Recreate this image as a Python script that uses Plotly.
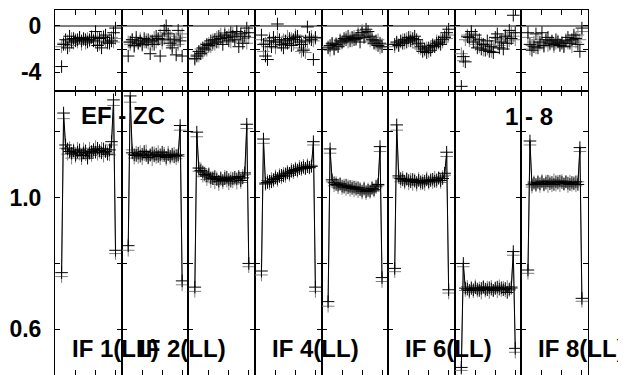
import plotly.graph_objects as go
from plotly.subplots import make_subplots

# channels plotted in every IF panel
CHANNELS = list(range(3, 31))
N_IF = 8

# labels drawn along the bottom (AIPS skips the ones that would collide)
IF_LABELS = {1: "IF 1(LL)", 2: "IF 2(LL)", 4: "IF 4(LL)", 6: "IF 6(LL)", 8: "IF 8(LL)"}

PHASE_TICKS = [-4, -2, 0]
PHASE_TEXT  = ["-4", "", "0"]
AMP_TICKS   = [0.6, 0.8, 1.0, 1.2]
AMP_TEXT    = ["0.6", "", "1.0", ""]

# amplitude, main baseline (black)
AMP_BLACK = [
    [0.772, 1.257, 1.160, 1.148, 1.140, 1.135, 1.142, 1.130, 1.138, 1.145, 1.128, 1.136, 1.142, 1.120,
     1.135, 1.140, 1.146, 1.138, 1.150, 1.143, 1.136, 1.148, 1.140, 1.132, 1.145, 1.170, 1.297, 0.840],
    [0.854, 1.309, 1.136, 1.130, 1.128, 1.135, 1.126, 1.132, 1.140, 1.128, 1.122, 1.130, 1.136, 1.127,
     1.132, 1.125, 1.130, 1.138, 1.128, 1.122, 1.130, 1.126, 1.132, 1.124, 1.128, 1.130, 1.219, 0.747],
    [0.728, 1.199, 1.090, 1.082, 1.078, 1.070, 1.066, 1.072, 1.060, 1.058, 1.064, 1.055, 1.050, 1.060,
     1.052, 1.058, 1.062, 1.055, 1.050, 1.058, 1.062, 1.057, 1.064, 1.052, 1.060, 1.075, 1.223, 0.800],
    [0.777, 1.178, 1.044, 1.046, 1.050, 1.048, 1.055, 1.060, 1.058, 1.064, 1.068, 1.066, 1.072, 1.075,
     1.074, 1.080, 1.082, 1.085, 1.084, 1.088, 1.090, 1.092, 1.089, 1.094, 1.092, 1.095, 1.170, 0.728],
    [0.684, 1.148, 1.054, 1.045, 1.040, 1.038, 1.042, 1.035, 1.032, 1.038, 1.030, 1.034, 1.028, 1.032,
     1.026, 1.030, 1.024, 1.020, 1.026, 1.018, 1.022, 1.020, 1.028, 1.024, 1.035, 1.040, 1.155, 0.757],
    [0.785, 1.221, 1.066, 1.058, 1.054, 1.050, 1.056, 1.052, 1.048, 1.055, 1.050, 1.046, 1.052, 1.048,
     1.044, 1.050, 1.054, 1.048, 1.052, 1.056, 1.050, 1.054, 1.060, 1.052, 1.058, 1.074, 1.138, 0.720],
    [0.484, 0.800, 0.725, 0.722, 0.718, 0.724, 0.720, 0.726, 0.722, 0.718, 0.724, 0.728, 0.722, 0.720,
     0.726, 0.722, 0.718, 0.724, 0.728, 0.722, 0.726, 0.720, 0.724, 0.712, 0.722, 0.728, 0.836, 0.542],
    [0.780, 1.172, 1.039, 1.044, 1.040, 1.046, 1.042, 1.048, 1.040, 1.044, 1.050, 1.042, 1.046, 1.040,
     1.048, 1.044, 1.050, 1.046, 1.042, 1.048, 1.044, 1.040, 1.046, 1.042, 1.048, 1.040, 1.152, 0.694],
]

# amplitude, second set (grey)
AMP_GREY = [
    [0.760, 1.240, 1.150, 1.132, 1.152, 1.120, 1.145, 1.125, 1.150, 1.132, 1.118, 1.148, 1.130, 1.125,
     1.150, 1.128, 1.140, 1.155, 1.132, 1.138, 1.150, 1.126, 1.145, 1.138, 1.130, 1.160, 1.280, 0.830],
    [0.840, 1.290, 1.145, 1.120, 1.138, 1.122, 1.140, 1.118, 1.130, 1.142, 1.120, 1.128, 1.115, 1.136,
     1.122, 1.140, 1.118, 1.128, 1.135, 1.116, 1.138, 1.120, 1.126, 1.135, 1.118, 1.125, 1.205, 0.735],
    [0.715, 1.185, 1.080, 1.088, 1.065, 1.075, 1.055, 1.068, 1.048, 1.062, 1.045, 1.060, 1.040, 1.055,
     1.045, 1.065, 1.050, 1.042, 1.060, 1.048, 1.056, 1.044, 1.058, 1.046, 1.068, 1.070, 1.210, 0.790],
    [0.765, 1.165, 1.040, 1.052, 1.042, 1.058, 1.050, 1.066, 1.052, 1.070, 1.060, 1.074, 1.064, 1.080,
     1.068, 1.086, 1.076, 1.090, 1.080, 1.095, 1.085, 1.098, 1.088, 1.100, 1.090, 1.098, 1.160, 0.715],
    [0.670, 1.135, 1.048, 1.036, 1.046, 1.030, 1.040, 1.028, 1.038, 1.025, 1.036, 1.022, 1.034, 1.020,
     1.032, 1.018, 1.028, 1.014, 1.030, 1.012, 1.026, 1.016, 1.032, 1.020, 1.030, 1.036, 1.140, 0.745],
    [0.775, 1.205, 1.060, 1.048, 1.062, 1.044, 1.058, 1.042, 1.056, 1.040, 1.054, 1.038, 1.058, 1.042,
     1.052, 1.040, 1.060, 1.044, 1.056, 1.046, 1.062, 1.048, 1.058, 1.046, 1.064, 1.068, 1.125, 0.710],
    [0.475, 0.790, 0.718, 0.730, 0.712, 0.728, 0.714, 0.732, 0.716, 0.726, 0.710, 0.730, 0.716, 0.728,
     0.712, 0.730, 0.718, 0.726, 0.714, 0.732, 0.718, 0.728, 0.716, 0.730, 0.718, 0.724, 0.825, 0.530],
    [0.770, 1.160, 1.032, 1.048, 1.036, 1.050, 1.034, 1.052, 1.038, 1.050, 1.034, 1.048, 1.036, 1.054,
     1.038, 1.050, 1.036, 1.052, 1.040, 1.048, 1.034, 1.050, 1.038, 1.046, 1.036, 1.048, 1.140, 0.685],
]

# phase, main baseline (black)
PHASE_BLACK = [
    [-3.5, -1.6, -1.2, -1.9, -0.9, -1.4, -1.1, -1.3, -1.2, -1.0, -1.3, -1.1, -1.2, -1.4,
     -1.2, -1.0, -1.3, -0.5, -1.7, -1.1, -1.9, -1.0, -0.8, -1.4, -1.5, -1.3, -0.6, -0.2],
    [-2.6, -1.4, -1.2, -1.7, -1.0, -1.5, -1.3, -1.6, -1.1, -1.4, -1.2, -2.4, -1.3, -1.6,
     -0.9, -1.1, -2.6, -1.2, -0.4, 0.0, -0.7, -1.5, -1.9, -1.2, -2.5, -0.4, -1.3, -2.6],
    [-2.8, -2.6, -2.2, -2.4, -1.9, -2.0, -1.6, -1.7, -1.3, -1.5, -1.2, -1.4, -0.9, -1.1,
     -1.6, -0.8, -1.0, -1.3, -0.6, -0.9, -1.2, -0.5, -1.8, -0.7, -1.5, -0.9, -0.2, -0.6],
    [-0.8, -1.6, -2.6, -2.9, -1.3, -1.8, -1.0, -1.4, 0.15, -1.2, -1.6, -1.9, -1.3, -1.5,
     -1.1, -1.7, -1.2, -1.0, -0.9, -1.4, -1.6, -2.1, -1.3, -0.1, -1.0, -1.2, -2.9, -1.0],
    [-1.9, -1.7, -1.5, -2.0, -1.6, -1.8, -1.3, -1.4, -1.1, -1.2, -0.9, -1.3, -1.0, -1.2,
     -1.1, -0.8, -1.4, -0.6, -1.0, -0.3, -0.5, -0.9, -1.2, -1.5, -1.3, -1.7, -1.5, -1.8],
    [-1.6, -1.4, -1.7, -1.3, -1.5, -1.2, -1.4, -1.0, -1.3, -1.1, -0.9, -1.2, -1.5, -1.8,
     -2.2, -2.0, -2.3, -1.9, -2.1, -1.7, -1.8, -1.5, -1.4, -1.6, -1.2, -1.0, -0.6, -0.3],
    [-5.2, -2.65, -3.1, -0.95, -1.0, -0.5, -1.4, -0.8, -1.9, -1.2, -2.0, -1.6, -2.1, -1.3,
     -2.2, -1.8, -2.3, -1.0, -0.7, -1.9, -1.4, -2.0, -0.9, -1.5, -0.4, -1.1, 0.9, -0.6],
    [-0.6, -1.6, -2.1, -1.8, -0.7, -1.9, -1.4, -0.6, -1.7, -1.2, -1.0, -1.5, -1.3, -1.6,
     -1.2, -1.4, -1.7, -1.5, -1.8, -1.3, -1.0, -1.5, -1.2, -0.8, -1.1, -1.6, -2.2, -0.2],
]

# phase, second set (grey)
PHASE_GREY = [
    [-1.8, -1.5, -1.6, -1.3, -1.7, -1.1, -1.5, -1.2, -1.4, -1.0, -1.6, -1.2, -1.5, -1.1,
     -1.3, -0.9, -1.2, -1.4, -1.0, -1.6, -1.1, -0.9, -1.3, -1.5, -1.2, -1.0, -1.4, -1.1],
    [-1.4, -1.6, -1.2, -1.8, -1.3, -1.5, -1.1, -1.7, -1.4, -1.2, -1.5, -1.3, -1.6, -1.0,
     -1.4, -1.2, -0.8, -1.5, -1.1, -0.6, -1.3, -0.9, -1.7, -1.4, -1.1, -1.6, -1.0, -0.7],
    [-2.9, -2.5, -2.6, -2.0, -2.3, -1.8, -2.1, -1.5, -1.8, -1.2, -1.6, -1.0, -1.4, -0.7,
     -1.2, -0.6, -1.1, -0.8, -1.4, -0.5, -1.0, -0.7, -1.3, -0.9, -1.1, -0.6, -1.5, -1.0],
    [-1.2, -2.2, -1.5, -1.8, -1.1, -1.6, -1.3, -1.9, -1.0, -1.4, -1.7, -1.2, -1.5, -0.9,
     -1.3, -1.1, -1.6, -0.8, -1.2, -1.9, -2.2, -2.0, -2.3, -1.4, -1.1, -0.9, -1.3, -1.1],
    [-1.8, -2.1, -1.6, -1.9, -1.5, -1.7, -1.2, -1.5, -1.3, -1.0, -1.4, -1.1, -1.3, -0.9,
     -1.2, -0.6, -0.9, -0.4, -0.8, -0.6, -1.1, -1.3, -1.0, -1.4, -1.6, -1.2, -1.9, -1.6],
    [-1.8, -1.5, -1.6, -1.4, -1.2, -1.5, -1.1, -1.3, -1.0, -1.4, -1.2, -1.6, -1.9, -2.0,
     -1.7, -2.1, -1.9, -2.2, -1.8, -1.6, -1.7, -1.3, -1.5, -1.2, -1.4, -0.9, -1.1, -0.8],
    [-2.4, -3.0, -1.2, -0.8, -1.3, -0.7, -1.1, -1.6, -1.3, -1.8, -1.5, -2.1, -1.7, -2.0,
     -1.6, -2.2, -1.9, -1.3, -1.1, -1.7, -1.2, -1.5, -0.8, -1.0, -1.3, -0.6, -0.9, -1.2],
    [-1.0, -2.0, -1.7, -1.4, -1.9, -1.2, -1.6, -1.5, -1.8, -1.3, -1.7, -1.6, -1.4, -1.8,
     -1.5, -1.3, -1.6, -1.4, -1.7, -1.2, -1.5, -1.3, -1.8, -1.0, -1.4, -0.8, -1.2, -0.5],
]

BLACK = "#000000"
GREY  = "#7f7f7f"
FONT  = "Liberation Sans, Arial, sans-serif"

fig = make_subplots(
    rows=2, cols=N_IF,
    horizontal_spacing=0, vertical_spacing=0,
    row_heights=[0.221, 0.779],
)

for i in range(N_IF):
    col = i + 1
    # phase: crosses only
    for vals, color in ((PHASE_GREY[i], GREY), (PHASE_BLACK[i], BLACK)):
        fig.add_trace(go.Scatter(
            x=CHANNELS, y=vals, mode="markers",
            marker=dict(symbol="cross-thin", size=9, line=dict(width=1, color=color)),
            showlegend=False, hoverinfo="skip",
        ), row=1, col=col)
    # amplitude: crosses joined by a line
    for vals, color in ((AMP_GREY[i], GREY), (AMP_BLACK[i], BLACK)):
        fig.add_trace(go.Scatter(
            x=CHANNELS, y=vals, mode="lines+markers",
            line=dict(color=color, width=1),
            marker=dict(symbol="cross-thin", size=9, line=dict(width=1, color=color)),
            showlegend=False, hoverinfo="skip",
        ), row=2, col=col)

    if col in IF_LABELS:
        fig.add_annotation(
            text=IF_LABELS[col], x=7.2, y=0.543, row=2, col=col,
            xanchor="left", yanchor="middle", showarrow=False,
            font=dict(family=FONT, size=24, color=BLACK, weight="bold"),
        )

fig.add_annotation(text="EF - ZC", x=11.7, y=1.251, row=2, col=1,
                   xanchor="left", yanchor="middle", showarrow=False,
                   font=dict(family=FONT, size=24, color=BLACK, weight="bold"))
fig.add_annotation(text="1 - 8", x=23.7, y=1.246, row=2, col=7,
                   xanchor="left", yanchor="middle", showarrow=False,
                   font=dict(family=FONT, size=24, color=BLACK, weight="bold"))

fig.update_xaxes(
    range=[-0.3, 33.05], tickvals=[10, 20, 30], showticklabels=False,
    ticks="inside", ticklen=5, tickcolor=BLACK, mirror="ticks",
    showline=True, linecolor=BLACK, linewidth=1, showgrid=False, zeroline=False,
    automargin=False,
)
fig.update_yaxes(
    ticks="inside", ticklen=5, tickcolor=BLACK, mirror="ticks",
    showline=True, linecolor=BLACK, linewidth=1, showgrid=False,
    showticklabels=False, automargin=False,
    tickfont=dict(family=FONT, size=23, color=BLACK, weight="bold"),
)
fig.update_yaxes(range=[-5.57, 1.35], tickvals=PHASE_TICKS, ticktext=PHASE_TEXT,
                 zeroline=True, zerolinecolor=GREY, zerolinewidth=1.5, row=1)
fig.update_yaxes(range=[0.461, 1.325], tickvals=AMP_TICKS, ticktext=AMP_TEXT,
                 zeroline=False, row=2)
fig.update_yaxes(showticklabels=True, ticklabelstandoff=8, col=1)

# the page body adds an 8px margin, so the figure is 8px smaller on each leading edge
fig.update_layout(
    width=618, height=367,
    paper_bgcolor="white", plot_bgcolor="white",
    margin=dict(l=47, r=38, t=2, b=0, autoexpand=False),
    font=dict(family=FONT, color=BLACK),
    showlegend=False,
)

fig.write_html("out.html")
